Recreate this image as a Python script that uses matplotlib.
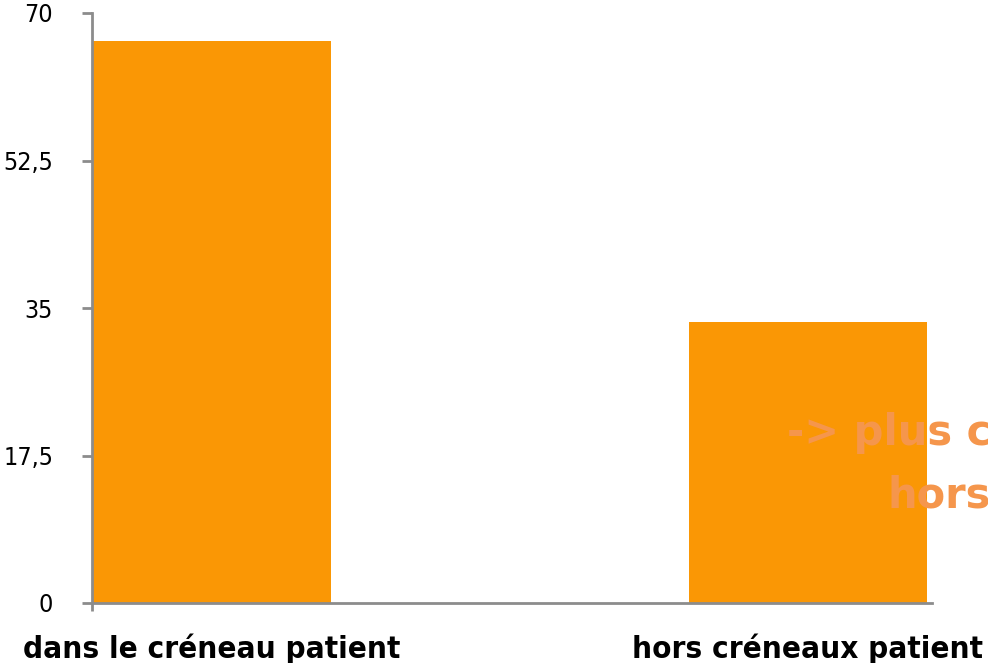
import matplotlib
matplotlib.use("Agg")
import matplotlib.pyplot as plt

# data
categories = ["dans le créneau patient", "hors créneaux patient"]
values = [66.7, 33.3]
y_ticks = [0, 17.5, 35, 52.5, 70]
y_tick_labels = ["0", "17,5", "35", "52,5", "70"]
note_lines = ["-> plus c", "hors"]

bar_color = "#FA9705"
note_color = "#F5964C"
axis_color = "#8C8C8C"

W, H = 988, 663
fig = plt.figure(figsize=(W / 100, H / 100), dpi=100)
ax = fig.add_axes([92 / W, 1 - 603 / H, 840 / W, 590 / H])

x = list(range(len(categories)))
ax.bar(x, values, width=0.4, color=bar_color, zorder=2)

ax.set_xlim(-0.2, 1.208)
ax.set_ylim(0, 70)

# y axis
ax.set_yticks(y_ticks)
ax.set_yticklabels(y_tick_labels, fontsize=18, family="DejaVu Sans",
                   fontstretch="condensed")
ax.tick_params(axis="y", direction="out", length=7, width=2, color=axis_color, pad=21)

# x axis: labels under the bars, one tick mark at the left end
ax.set_xticks(x)
ax.set_xticklabels(categories, fontsize=22.5, fontweight="bold", family="DejaVu Sans",
                   fontstretch="condensed")
ax.tick_params(axis="x", length=0, pad=22)
ax.set_xticks([-0.2], minor=True)
ax.tick_params(axis="x", which="minor", direction="out", length=6, width=2, color=axis_color)

for s in ["top", "right"]:
    ax.spines[s].set_visible(False)
for s in ["left", "bottom"]:
    ax.spines[s].set_color(axis_color)
    ax.spines[s].set_linewidth(2)

# overlay note, cut off by the right edge of the picture (as in the reference)
fig.text(787 / W, 1 - 445 / H, note_lines[0], color=note_color, fontsize=30,
         fontweight="bold", family="DejaVu Sans",
         ha="left", va="baseline", zorder=5)
fig.text(887 / W, 1 - 507 / H, note_lines[1], color=note_color, fontsize=30,
         fontweight="bold", family="DejaVu Sans",
         ha="left", va="baseline", zorder=5)

fig.savefig("out.png", dpi=100)
